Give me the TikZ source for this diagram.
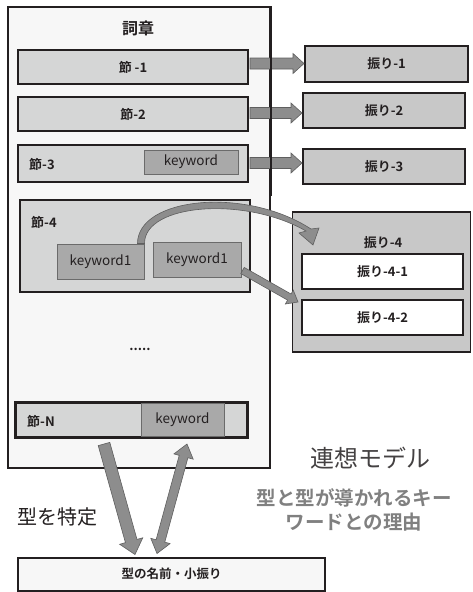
\documentclass[tikz,border=0pt]{standalone}
\usepackage{fontspec}
\setmainfont{Noto Sans CJK JP}[BoldFont={Noto Sans CJK JP Bold}]
\usetikzlibrary{calc}
\definecolor{dk}{HTML}{231F20}
\definecolor{secfill}{HTML}{D5D6D6}
\definecolor{kwfill}{HTML}{A9A9A9}
\definecolor{kwdraw}{HTML}{6B6B6B}
\definecolor{furifill}{HTML}{C8C8C8}
\definecolor{outfill}{HTML}{F7F7F7}
\definecolor{arrfill}{HTML}{8D8D8D}
\definecolor{arrdraw}{HTML}{5F5F5F}
\definecolor{txtgray}{HTML}{808080}
\tikzset{
  box/.style={draw=dk, line width=2pt, inner sep=0pt, text=dk, font=\fontsize{13}{15}\selectfont\bfseries},
  secbox/.style={box, fill=secfill},
  kwbox/.style={draw=kwdraw, line width=1pt, fill=kwfill, inner sep=0pt, text=dk, font=\fontsize{13.5}{15}\selectfont},
  furibox/.style={box, fill=furifill},
  whitebox/.style={box, fill=white},
  arrowst/.style={fill=arrfill, draw=arrdraw, line width=0.6pt, line join=miter},
  lbl/.style={inner sep=0pt, text=dk, font=\fontsize{13}{15}\selectfont\bfseries}
}
% single-headed block arrow: #1 start, #2 tip, #3 half shaft, #4 half head, #5 head length
\newcommand\blockarr[5]{%
  \coordinate (ba-h) at ($(#2)!#5!(#1)$);
  \filldraw[arrowst] ($(#1)!#3!-90:(#2)$) -- ($(ba-h)!#3!-90:(#2)$) -- ($(ba-h)!#4!-90:(#2)$) -- (#2)
    -- ($(ba-h)!#4!90:(#2)$) -- ($(ba-h)!#3!90:(#2)$) -- ($(#1)!#3!90:(#2)$) -- cycle;}
% double-headed block arrow
\newcommand\dblarr[5]{%
  \coordinate (da-h1) at ($(#1)!#5!(#2)$);
  \coordinate (da-h2) at ($(#2)!#5!(#1)$);
  \filldraw[arrowst] (#1) -- ($(da-h1)!#4!-90:(#2)$) -- ($(da-h1)!#3!-90:(#2)$) -- ($(da-h2)!#3!-90:(#2)$)
    -- ($(da-h2)!#4!-90:(#2)$) -- (#2) -- ($(da-h2)!#4!90:(#2)$) -- ($(da-h2)!#3!90:(#2)$)
    -- ($(da-h1)!#3!90:(#2)$) -- ($(da-h1)!#4!90:(#2)$) -- cycle;}
\begin{document}
\begin{tikzpicture}[x=1pt, y=-1pt]
\useasboundingbox (0,0) rectangle (472,592);
% outer
\node[draw=dk, line width=2pt, fill=outfill, minimum width=262pt, minimum height=461pt, inner sep=0pt] (outer) at (139,237.5) {};
\node[lbl, font=\fontsize{16}{18}\selectfont\bfseries] (title) at (138,28) {詞章};
% sections
\node[secbox, minimum width=230pt, minimum height=34pt] (s1) at (133,67) {節 -1};
\node[secbox, minimum width=230pt, minimum height=34pt] (s2) at (133,114) {節-2};
\node[secbox, minimum width=230pt, minimum height=37pt] (s3) at (133,163.5) {};
\node[lbl, anchor=west] (s3l) at (29,164) {節-3};
\node[kwbox, minimum width=94pt, minimum height=24pt] (kw3) at (191,162) {keyword};
\node[secbox, minimum width=230pt, minimum height=92pt] (s4) at (135,246) {};
\node[lbl, anchor=west] (s4l) at (31,222) {節-4};
\node[kwbox, minimum width=87pt, minimum height=35pt] (k1) at (100.5,261.5) {keyword1};
\node[kwbox, minimum width=88pt, minimum height=35pt] (k2) at (197,259.5) {keyword1};
\node[lbl] (dots) at (140,349) {.....};
\node[secbox, minimum width=231pt, minimum height=34pt] (sN) at (131.5,420) {};
\node[kwbox, minimum width=83pt, minimum height=33pt] (kwN) at (182.5,420) {keyword};
\draw[dk, line width=2pt] (sN.north west) rectangle (sN.south east);
\node[lbl, anchor=west] (sNl) at (27,421) {節-N};
% furi
\node[furibox, minimum width=163pt, minimum height=36pt] (f1) at (386.5,64) {振り-1};
\node[furibox, minimum width=162pt, minimum height=35pt] (f2) at (384,110.5) {振り-2};
\node[furibox, minimum width=162pt, minimum height=35pt] (f3) at (384,166.5) {振り-3};
\node[draw=dk, line width=1.5pt, fill=furifill, minimum width=178pt, minimum height=140pt, inner sep=0pt] (f4) at (381.5,282) {};
\node[lbl] (f4l) at (383,243) {振り-4};
\node[whitebox, minimum width=161pt, minimum height=35pt] (g1) at (382.5,271.5) {振り-4-1};
\node[whitebox, minimum width=161pt, minimum height=35pt] (g2) at (382.5,317.5) {振り-4-2};
% bottom
\node[box, fill=outfill, minimum width=307pt, minimum height=33pt, font=\fontsize{12.5}{14}\selectfont\bfseries] (bot) at (171.5,574) {型の名前・小振り};
% texts
\node[inner sep=0pt, text=dk!85, font=\fontsize{24}{28}\selectfont] (model) at (370,458) {連想モデル};
\node[inner sep=0pt, text=txtgray, align=center, font=\fontsize{19.5}{24}\selectfont\bfseries] (reason) at (354,510) {型と型が導かれるキー\\ワードとの理由};
\node[inner sep=0pt, text=dk, font=\fontsize{20}{24}\selectfont] (tokutei) at (57,517) {型を特定};
% arrows section -> furi
\coordinate (a1s) at ($(s1.east)+(1,-3.5)$);
\coordinate (a1e) at (f1.west |- a1s);
\blockarr{a1s}{a1e}{5.5pt}{10pt}{11pt}
\coordinate (a2s) at ($(s2.east)+(1,-1)$);
\coordinate (a2e) at (f2.west |- a2s);
\blockarr{a2s}{a2e}{5.5pt}{10pt}{11pt}
\coordinate (a3s) at ($(s3.east)+(1,-0.5)$);
\coordinate (a3e) at (f3.west |- a3s);
\blockarr{a3s}{a3e}{5.5pt}{10pt}{11pt}
% outer frame edge drawn over the straight arrows
\coordinate (oe) at ($(outer.north east)+(0,190)$);
\draw[dk, line width=2pt] (outer.north east) -- (oe);
% keyword1 -> furi-4-2
\coordinate (a5s) at ($(k2.south east)+(1,-7)$);
\coordinate (a5e) at ($(g2.north west)+(-3,3)$);
\blockarr{a5s}{a5e}{3.5pt}{8pt}{10pt}
% curved arrow keyword1 -> furi-4
\filldraw[arrowst] ($(k1.north east)+(-7,0)$) .. controls ($(k1.north east)+(-7,-46)$) and (245,186) .. (311,229)
  -- (319,228) -- (313,245) -- (299,233) -- (306,231)
  .. controls (245,196) and ($(k1.north east)+(0,-40)$) .. ($(k1.north east)+(0,0)$) -- cycle;
% bottom arrows
\coordinate (d1s) at ($(sN.south west)+(89,6)$);
\coordinate (d1e) at ($(bot.north west)+(118,-2)$);
\blockarr{d1s}{d1e}{6pt}{12pt}{14pt}
\coordinate (d2s) at ($(sN.south west)+(172,6)$);
\coordinate (d2e) at ($(bot.north west)+(140,-3)$);
\dblarr{d2s}{d2e}{4.5pt}{10pt}{13pt}
\end{tikzpicture}
\end{document}
